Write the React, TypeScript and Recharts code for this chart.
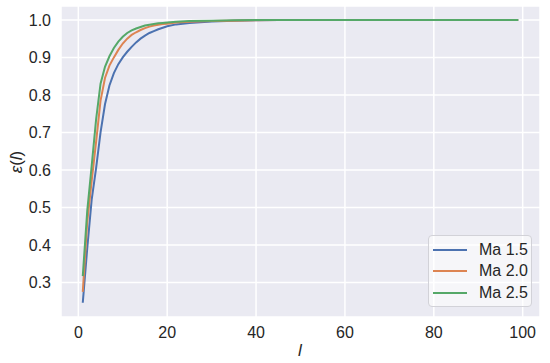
import React from "react";
import { LineChart, Line, XAxis, YAxis, CartesianGrid } from "recharts";

// l values where the curves were sampled
const lValues = [
  1, 2, 3, 4, 5, 6, 7, 8, 9, 10, 11, 12, 13, 14, 15, 16, 17, 18, 19, 20, 22,
  25, 30, 35, 40, 45, 50, 60, 70, 80, 90, 99,
];

const ma15 = [
  0.246, 0.39, 0.52, 0.605, 0.7, 0.775, 0.825, 0.858, 0.882, 0.9, 0.915,
  0.928, 0.94, 0.95, 0.958, 0.965, 0.97, 0.975, 0.979, 0.983, 0.988, 0.992,
  0.996, 0.998, 0.999, 1.0, 1.0, 1.0, 1.0, 1.0, 1.0, 1.0,
];

const ma20 = [
  0.275, 0.46, 0.57, 0.675, 0.785, 0.845, 0.878, 0.9, 0.92, 0.937, 0.95,
  0.96, 0.967, 0.973, 0.978, 0.982, 0.985, 0.987, 0.989, 0.99, 0.993, 0.995,
  0.997, 0.998, 0.999, 1.0, 1.0, 1.0, 1.0, 1.0, 1.0, 1.0,
];

const ma25 = [
  0.317, 0.49, 0.61, 0.735, 0.83, 0.875, 0.903, 0.925, 0.942, 0.955, 0.965,
  0.972, 0.977, 0.981, 0.985, 0.987, 0.989, 0.991, 0.992, 0.993, 0.995,
  0.997, 0.998, 0.999, 1.0, 1.0, 1.0, 1.0, 1.0, 1.0, 1.0, 1.0,
];

const xTicks = [0, 20, 40, 60, 80, 100];
const yTicks = [0.3, 0.4, 0.5, 0.6, 0.7, 0.8, 0.9, 1.0];

const series = [
  { key: "ma15", name: "Ma 1.5", color: "#4C72B0" },
  { key: "ma20", name: "Ma 2.0", color: "#DD8452" },
  { key: "ma25", name: "Ma 2.5", color: "#55A868" },
];

const data = lValues.map((l, i) => ({
  l,
  ma15: ma15[i],
  ma20: ma20[i],
  ma25: ma25[i],
}));

const textColor = "#262626";
const font = "'Liberation Sans', Arial, sans-serif";

const LegendBox = () => (
  <div
    style={{
      position: "absolute",
      left: 428,
      top: 235,
      width: 104,
      height: 72,
      boxSizing: "border-box",
      background: "rgba(255,255,255,0.55)",
      border: "1px solid #d2d2d8",
      borderRadius: 4,
      paddingTop: 3,
      fontFamily: font,
      fontSize: 16,
      color: textColor,
    }}
  >
    {series.map((s) => (
      <div
        key={s.key}
        style={{ display: "flex", alignItems: "center", height: 21.5 }}
      >
        <div
          style={{ marginLeft: 4, width: 34, height: 2, background: s.color }}
        />
        <span style={{ marginLeft: 12 }}>{s.name}</span>
      </div>
    ))}
  </div>
);

const App = () => {
  return (
    <div
      style={{
        position: "absolute",
        left: 0,
        top: 0,
        width: 550,
        height: 363,
        background: "#fff",
      }}
    >
      <LineChart
        width={550}
        height={363}
        data={data}
        margin={{ top: 6, right: 10, left: 11, bottom: 16 }}
      >
        <CartesianGrid fill="#EAEAF2" stroke="#ffffff" strokeWidth={1.5} />
        <XAxis
          dataKey="l"
          type="number"
          domain={[-3.9, 103.9]}
          ticks={xTicks}
          axisLine={false}
          tickLine={false}
          tickMargin={4}
          height={30}
          tick={{ fill: textColor, fontSize: 16, fontFamily: font }}
        />
        <YAxis
          type="number"
          domain={[0.208, 1.037]}
          ticks={yTicks}
          axisLine={false}
          tickLine={false}
          tickMargin={4}
          width={50}
          tickFormatter={(v: number) => v.toFixed(1)}
          tick={{ fill: textColor, fontSize: 16, fontFamily: font }}
        />
        {series.map((s) => (
          <Line
            key={s.key}
            dataKey={s.key}
            name={s.name}
            type="linear"
            stroke={s.color}
            strokeWidth={2}
            dot={false}
            isAnimationActive={false}
          />
        ))}
        <text
          x={300}
          y={356}
          textAnchor="middle"
          fill={textColor}
          fontSize={17}
          fontStyle="italic"
          fontFamily={font}
        >
          l
        </text>
        <text
          x={22}
          y={162}
          textAnchor="middle"
          fill={textColor}
          fontSize={17}
          fontFamily={font}
          transform="rotate(-90, 22, 162)"
        >
          <tspan fontStyle="italic">ε</tspan>
          <tspan>(</tspan>
          <tspan fontStyle="italic">l</tspan>
          <tspan>)</tspan>
        </text>
      </LineChart>
      <LegendBox />
    </div>
  );
};

export default App;
